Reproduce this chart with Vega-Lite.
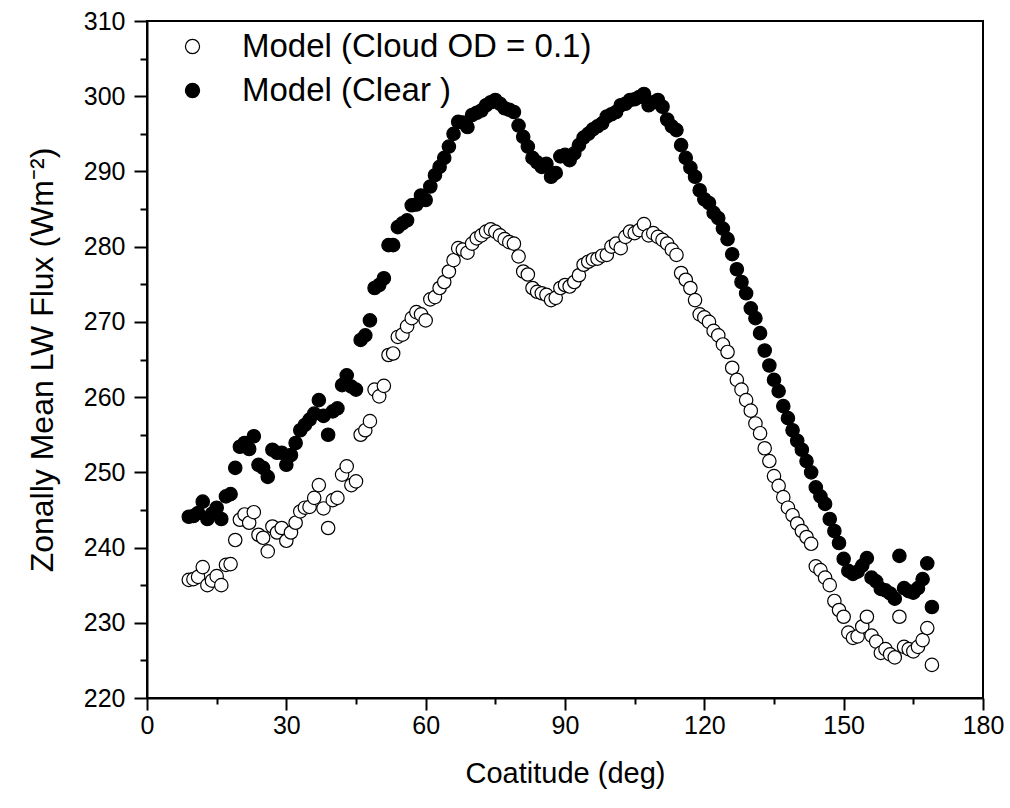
{
  "$schema": "https://vega.github.io/schema/vega-lite/v6.json",
  "width": 836,
  "height": 677,
  "autosize": "none",
  "padding": {"left": 147, "top": 21, "right": 27, "bottom": 110},
  "background": "white",
  "config": {"view": {"stroke": "black", "strokeWidth": 2}, "font": "Liberation Sans"},
  "data": {"values": [
    {"c":9,"cloud":235.7,"clear":244.1},{"c":10,"cloud":235.8,"clear":244.2},{"c":11,"cloud":236.1,"clear":244.6},{"c":12,"cloud":237.4,"clear":246.1},{"c":13,"cloud":235.0,"clear":243.8},{"c":14,"cloud":235.6,"clear":244.5},{"c":15,"cloud":236.2,"clear":245.3},{"c":16,"cloud":235.0,"clear":243.8},{"c":17,"cloud":237.7,"clear":246.8},{"c":18,"cloud":237.8,"clear":247.1},
    {"c":19,"cloud":241.0,"clear":250.6},{"c":20,"cloud":243.7,"clear":253.4},{"c":21,"cloud":244.4,"clear":253.9},{"c":22,"cloud":243.3,"clear":253.1},{"c":23,"cloud":244.7,"clear":254.8},{"c":24,"cloud":241.7,"clear":251.0},{"c":25,"cloud":241.3,"clear":250.6},{"c":26,"cloud":239.5,"clear":249.4},{"c":27,"cloud":242.8,"clear":253.0},{"c":28,"cloud":242.0,"clear":252.6},
    {"c":29,"cloud":242.6,"clear":252.6},{"c":30,"cloud":240.9,"clear":251.0},{"c":31,"cloud":242.0,"clear":252.3},{"c":32,"cloud":243.3,"clear":253.9},{"c":33,"cloud":244.8,"clear":255.6},{"c":34,"cloud":245.3,"clear":256.3},{"c":35,"cloud":245.4,"clear":257.0},{"c":36,"cloud":246.6,"clear":257.8},{"c":37,"cloud":248.3,"clear":259.6},{"c":38,"cloud":245.2,"clear":257.5},
    {"c":39,"cloud":242.6,"clear":255.0},{"c":40,"cloud":246.3,"clear":258.1},{"c":41,"cloud":246.6,"clear":258.5},{"c":42,"cloud":249.7,"clear":261.6},{"c":43,"cloud":250.8,"clear":262.9},{"c":44,"cloud":248.3,"clear":261.4},{"c":45,"cloud":248.8,"clear":261.0},{"c":46,"cloud":255.0,"clear":267.6},{"c":47,"cloud":255.6,"clear":268.2},{"c":48,"cloud":256.8,"clear":270.2},
    {"c":49,"cloud":261.0,"clear":274.5},{"c":50,"cloud":260.1,"clear":274.9},{"c":51,"cloud":261.5,"clear":275.8},{"c":52,"cloud":265.6,"clear":280.2},{"c":53,"cloud":265.8,"clear":280.2},{"c":54,"cloud":268.0,"clear":282.6},{"c":55,"cloud":268.3,"clear":283.1},{"c":56,"cloud":269.4,"clear":283.5},{"c":57,"cloud":270.5,"clear":285.5},{"c":58,"cloud":271.3,"clear":285.6},
    {"c":59,"cloud":271.0,"clear":286.8},{"c":60,"cloud":270.2,"clear":286.2},{"c":61,"cloud":273.0,"clear":288.0},{"c":62,"cloud":273.3,"clear":289.5},{"c":63,"cloud":274.5,"clear":290.6},{"c":64,"cloud":275.3,"clear":291.8},{"c":65,"cloud":276.7,"clear":293.3},{"c":66,"cloud":278.2,"clear":295.0},{"c":67,"cloud":279.8,"clear":296.6},{"c":68,"cloud":279.6,"clear":296.5},
    {"c":69,"cloud":279.2,"clear":295.9},{"c":70,"cloud":280.4,"clear":297.5},{"c":71,"cloud":281.1,"clear":297.8},{"c":72,"cloud":281.5,"clear":298.1},{"c":73,"cloud":282.0,"clear":298.8},{"c":74,"cloud":282.3,"clear":299.2},{"c":75,"cloud":282.0,"clear":299.5},{"c":76,"cloud":281.5,"clear":299.0},{"c":77,"cloud":281.0,"clear":298.4},{"c":78,"cloud":280.6,"clear":298.2},
    {"c":79,"cloud":280.4,"clear":297.9},{"c":80,"cloud":278.7,"clear":296.1},{"c":81,"cloud":276.7,"clear":294.6},{"c":82,"cloud":276.3,"clear":293.3},{"c":83,"cloud":274.5,"clear":291.8},{"c":84,"cloud":274.0,"clear":291.2},{"c":85,"cloud":273.8,"clear":290.6},{"c":86,"cloud":273.6,"clear":291.0},{"c":87,"cloud":272.9,"clear":289.3},{"c":88,"cloud":273.2,"clear":289.8},
    {"c":89,"cloud":274.5,"clear":292.0},{"c":90,"cloud":274.9,"clear":292.2},{"c":91,"cloud":274.7,"clear":291.5},{"c":92,"cloud":275.3,"clear":292.4},{"c":93,"cloud":276.2,"clear":293.5},{"c":94,"cloud":277.6,"clear":294.5},{"c":95,"cloud":278.0,"clear":295.0},{"c":96,"cloud":278.3,"clear":295.6},{"c":97,"cloud":278.4,"clear":296.0},{"c":98,"cloud":278.8,"clear":296.4},
    {"c":99,"cloud":278.9,"clear":297.3},{"c":100,"cloud":280.0,"clear":297.6},{"c":101,"cloud":280.4,"clear":297.9},{"c":102,"cloud":279.8,"clear":298.8},{"c":103,"cloud":281.3,"clear":299.0},{"c":104,"cloud":282.0,"clear":299.5},{"c":105,"cloud":281.8,"clear":299.6},{"c":106,"cloud":282.2,"clear":299.9},{"c":107,"cloud":283.0,"clear":300.3},{"c":108,"cloud":281.5,"clear":298.8},
    {"c":109,"cloud":281.8,"clear":299.2},{"c":110,"cloud":281.3,"clear":299.5},{"c":111,"cloud":280.9,"clear":298.6},{"c":112,"cloud":280.4,"clear":296.9},{"c":113,"cloud":279.6,"clear":296.0},{"c":114,"cloud":278.9,"clear":295.5},{"c":115,"cloud":276.5,"clear":293.5},{"c":116,"cloud":275.6,"clear":291.8},{"c":117,"cloud":274.5,"clear":290.5},{"c":118,"cloud":272.9,"clear":289.3},
    {"c":119,"cloud":271.0,"clear":287.5},{"c":120,"cloud":270.6,"clear":286.3},{"c":121,"cloud":270.0,"clear":285.8},{"c":122,"cloud":268.8,"clear":284.5},{"c":123,"cloud":268.2,"clear":283.8},{"c":124,"cloud":267.0,"clear":282.4},{"c":125,"cloud":266.0,"clear":281.0},{"c":126,"cloud":263.9,"clear":279.0},{"c":127,"cloud":262.3,"clear":277.0},{"c":128,"cloud":261.0,"clear":275.3},
    {"c":129,"cloud":259.6,"clear":273.8},{"c":130,"cloud":258.2,"clear":271.8},{"c":131,"cloud":256.5,"clear":270.5},{"c":132,"cloud":255.2,"clear":268.5},{"c":133,"cloud":253.2,"clear":266.2},{"c":134,"cloud":251.5,"clear":264.2},{"c":135,"cloud":249.5,"clear":262.3},{"c":136,"cloud":248.2,"clear":260.8},{"c":137,"cloud":246.7,"clear":258.8},{"c":138,"cloud":245.3,"clear":257.2},
    {"c":139,"cloud":244.3,"clear":255.6},{"c":140,"cloud":243.2,"clear":254.2},{"c":141,"cloud":242.2,"clear":253.0},{"c":142,"cloud":241.4,"clear":251.5},{"c":143,"cloud":240.5,"clear":250.0},{"c":144,"cloud":237.5,"clear":248.0},{"c":145,"cloud":237.0,"clear":246.8},{"c":146,"cloud":236.0,"clear":245.8},{"c":147,"cloud":235.0,"clear":243.8},{"c":148,"cloud":232.9,"clear":242.2},
    {"c":149,"cloud":231.7,"clear":240.6},{"c":150,"cloud":230.8,"clear":238.5},{"c":151,"cloud":228.7,"clear":236.9},{"c":152,"cloud":228.0,"clear":236.5},{"c":153,"cloud":228.2,"clear":236.8},{"c":154,"cloud":229.5,"clear":237.6},{"c":155,"cloud":230.8,"clear":238.6},{"c":156,"cloud":228.3,"clear":236.0},{"c":157,"cloud":227.5,"clear":235.5},{"c":158,"cloud":226.0,"clear":234.5},
    {"c":159,"cloud":226.5,"clear":234.3},{"c":160,"cloud":225.8,"clear":233.9},{"c":161,"cloud":225.4,"clear":233.2},{"c":162,"cloud":230.8,"clear":238.9},{"c":163,"cloud":226.8,"clear":234.6},{"c":164,"cloud":226.5,"clear":234.2},{"c":165,"cloud":226.2,"clear":234.0},{"c":166,"cloud":226.8,"clear":234.6},{"c":167,"cloud":227.7,"clear":235.8},{"c":168,"cloud":229.3,"clear":237.9},
    {"c":169,"cloud":224.4,"clear":232.1}
  ]},
  "transform": [{"fold": ["cloud", "clear"], "as": ["series", "flux"]}],
  "mark": {"type": "point", "shape": "circle", "size": 180, "filled": true, "stroke": "black", "strokeWidth": 1.2, "opacity": 1},
  "encoding": {
    "x": {
      "field": "c", "type": "quantitative",
      "scale": {"domain": [0, 180], "nice": false, "zero": false},
      "axis": {
        "values": [0, 15, 30, 45, 60, 75, 90, 105, 120, 135, 150, 165, 180],
        "title": "Coatitude (deg)", "grid": false,
        "domainColor": "black", "domainWidth": 2, "tickColor": "black", "tickWidth": 2,
        "tickSize": {"condition": {"test": "datum.value % 30 === 0", "value": 12}, "value": 6},
        "labelExpr": "datum.value % 30 === 0 ? datum.label : ''",
        "labelOverlap": false, "labelFlush": false, "labelBound": false,
        "labelFontSize": 25, "labelColor": "black", "labelPadding": 3,
        "titleFontSize": 29, "titleFontWeight": "normal", "titleColor": "black", "titlePadding": 21
      }
    },
    "y": {
      "field": "flux", "type": "quantitative",
      "scale": {"domain": [220, 310], "nice": false, "zero": false},
      "axis": {
        "values": [220, 225, 230, 235, 240, 245, 250, 255, 260, 265, 270, 275, 280, 285, 290, 295, 300, 305, 310],
        "title": "Zonally Mean LW Flux (Wm⁻²)", "grid": false,
        "domainColor": "black", "domainWidth": 2, "tickColor": "black", "tickWidth": 2,
        "tickSize": {"condition": {"test": "datum.value % 10 === 0", "value": 13}, "value": 7},
        "labelExpr": "datum.value % 10 === 0 ? datum.label : ''",
        "labelOverlap": false, "labelFlush": false, "labelBound": false,
        "labelFontSize": 25, "labelColor": "black", "labelPadding": 9,
        "titleFontSize": 32, "titleFontWeight": "normal", "titleColor": "black", "titlePadding": 24
      }
    },
    "fill": {
      "field": "series", "type": "nominal",
      "scale": {"domain": ["cloud", "clear"], "range": ["white", "black"]},
      "legend": {
        "orient": "none", "legendX": 29, "legendY": 9, "title": null,
        "labelExpr": "datum.label == 'cloud' ? 'Model (Cloud OD = 0.1)' : 'Model (Clear )'",
        "labelFontSize": 33, "labelColor": "black", "labelLimit": 0,
        "symbolType": "circle", "symbolSize": 200, "symbolStrokeColor": "black", "symbolStrokeWidth": 1.2,
        "labelOffset": 33, "rowPadding": 10
      }
    }
  }
}
